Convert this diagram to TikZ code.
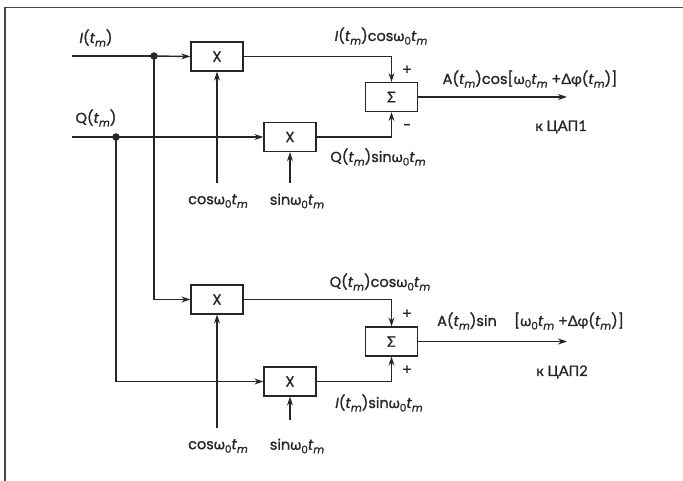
\documentclass[tikz,border=0pt]{standalone}
\usepackage{fontspec}
\setmainfont{Poppins}[FakeBold=1.2]
\newfontfamily\gr{Lato}[FakeBold=1.2]
\usetikzlibrary{arrows.meta}
\newcommand\tmm{\textit{t}\raisebox{-0.45ex}{\fontsize{10.5}{10.5}\selectfont\textit{m}}}
\newcommand\wz{{\gr ω}\raisebox{-0.45ex}{\fontsize{10.5}{10.5}\selectfont 0}}
\definecolor{ink}{HTML}{262626}
\begin{document}
\begin{tikzpicture}[x=1pt,y=-1pt,
  font=\fontsize{14.5}{16}\selectfont,
  line width=1.4pt, draw=ink, text=ink,
  >={Stealth[length=9pt,width=6pt]},
  box/.style={draw, fill=white, minimum width=52pt, minimum height=29pt, inner sep=0pt, line width=1.3pt},
  lbl/.style={inner sep=1pt},
  junc/.style={circle, fill=ink, draw=none, inner sep=0pt, minimum size=7.5pt}]
\useasboundingbox (0,0) rectangle (683,481);
% frame
\draw[line width=1.6pt, draw=ink!85] (5,481) -- (5,7.5) -- (683,7.5);

% inputs
\coordinate (inI) at (72,56);
\coordinate (inQ) at (72,137);
\node[junc] (dI) at (154,56) {};
\node[junc] (dQ) at (116,137) {};

% multipliers
\node[box] (m1) at (217,56.5) {X};
\node[box] (m2) at (290,137) {X};
\node[box] (m3) at (217,299.5) {X};
\node[box] (m4) at (290,381.5) {X};

% summers
\node[box] (s1) at (391.5,97) {{\gr Σ}};
\node[box] (s2) at (391.5,341.5) {{\gr Σ}};

% oscillator labels
\node[lbl] (c1) at (218,201) {cos\wz\tmm};
\node[lbl] (n1) at (297,201) {sin\wz\tmm};
\node[lbl] (c2) at (218,446) {cos\wz\tmm};
\node[lbl] (n2) at (297,446) {sin\wz\tmm};
\coordinate (c1a) at (217,183);
\coordinate (n1a) at (290,183);
\coordinate (c2a) at (217,428);
\coordinate (n2a) at (290,420);

% input signal labels
\node[lbl] (lI) at (96,38) {\textit{I}(\tmm)};
\node[lbl] (lQ) at (96,118) {Q(\tmm)};

% connections
\draw (inI) -- (dI.center);
\draw[->] (dI.center) -- (m1.west);
\draw (inQ) -- (dQ.center);
\draw[->] (dQ.center) -- (m2.west);
\draw[->] (dI.center) |- (m3.west);
\draw[->] (dQ.center) |- (m4.west);

\draw[->] (c1a) -- (m1.south);
\draw[->] (n1a) -- (m2.south);
\draw[->] (c2a) -- (m3.south);
\draw[->] (n2a) -- (m4.south);

\draw[->] (m1.east) -| (s1.north);
\draw[->] (m2.east) -| (s1.south);
\draw[->] (m3.east) -| (s2.north);
\draw[->] (m4.east) -| (s2.south);

\coordinate (o1) at (567,97);
\coordinate (o2) at (567,341.5);
\draw[->] (s1.east) -- (o1);
\draw[->] (s2.east) -- (o2);

% product labels
\node[lbl] (p1) at (381,36) {\textit{I}(\tmm)cos\wz\tmm};
\node[lbl] (p2) at (378,157) {Q(\tmm)sin\wz\tmm};
\node[lbl] (p3) at (380,282) {Q(\tmm)cos\wz\tmm};
\node[lbl] (p4) at (379,403) {\textit{I}(\tmm)sin\wz\tmm};

% signs
\node[lbl] (g1) at (407,70) {+};
\node[lbl] (g2) at (407,127) {−};
\node[lbl] (g3) at (407,314) {+};
\node[lbl] (g4) at (407,370) {+};

% outputs
\node[lbl] (a1) at (530,79) {A(\tmm)cos[\wz\tmm\ +{\gr Δφ}(\tmm)]};
\node[lbl] (k1) at (561,127) {{\gr к ЦАП1}};
\node[lbl] (a2) at (467,321) {A(\tmm)sin};
\node[lbl] (a3) at (569,321) {[\wz\tmm\ +{\gr Δφ}(\tmm)]};
\node[lbl] (k2) at (562,372) {{\gr к ЦАП2}};
\end{tikzpicture}
\end{document}
